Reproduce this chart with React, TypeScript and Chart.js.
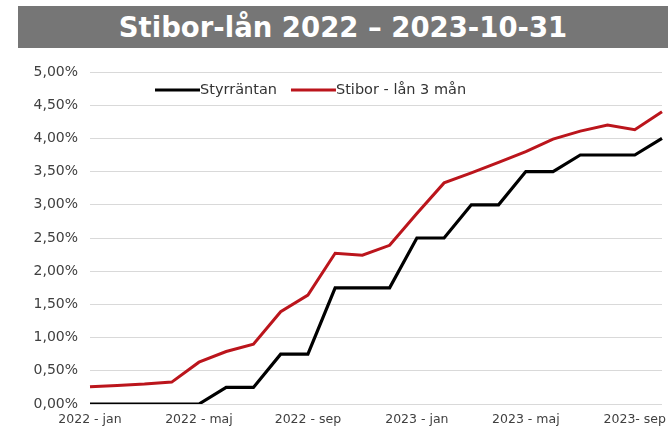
import { useEffect, useRef } from "react";
import { Chart, registerables } from "chart.js";

Chart.register(...registerables);

const TITLE = "Stibor-lån 2022 – 2023-10-31";

const months = [
  "2022 - jan", "2022 - feb", "2022 - mar", "2022 - apr", "2022 - maj", "2022 - jun",
  "2022 - jul", "2022 - aug", "2022 - sep", "2022 - okt", "2022 - nov", "2022 - dec",
  "2023 - jan", "2023 - feb", "2023 - mar", "2023 - apr", "2023 - maj", "2023 - jun",
  "2023 - jul", "2023 - aug", "2023- sep", "2023 - okt",
];

const xTickLabels = ["2022 - jan", "2022 - maj", "2022 - sep", "2023 - jan", "2023 - maj", "2023- sep"];

const seriesNames = ["Styrräntan", "Stibor - lån 3 mån"];

const styrrantan = [
  0, 0, 0, 0, 0, 0.25, 0.25, 0.75, 0.75, 1.75, 1.75, 1.75,
  2.5, 2.5, 3.0, 3.0, 3.5, 3.5, 3.75, 3.75, 3.75, 4.0,
];

const stibor3m = [
  0.26, 0.28, 0.3, 0.33, 0.63, 0.79, 0.9, 1.39, 1.64, 2.27, 2.24, 2.39,
  2.87, 3.33, 3.48, 3.64, 3.8, 3.99, 4.11, 4.2, 4.13, 4.4,
];

const Y_MIN = 0;
const Y_MAX = 5;
const Y_STEP = 0.5;

const inlineLegend = {
  id: "inlineLegend",
  afterDraw(chart: any) {
    const ctx = chart.ctx as CanvasRenderingContext2D;
    const area = chart.chartArea;
    let x = area.left + 65;
    const y = area.top + 18;
    ctx.save();
    ctx.font = '14.5px "DejaVu Sans"';
    ctx.textBaseline = "middle";
    ctx.textAlign = "left";
    chart.data.datasets.forEach((ds: any) => {
      ctx.strokeStyle = ds.borderColor;
      ctx.lineWidth = 3;
      ctx.beginPath();
      ctx.moveTo(x, y);
      ctx.lineTo(x + 45, y);
      ctx.stroke();
      x += 45;
      ctx.fillStyle = "#333333";
      ctx.fillText(ds.label, x, y);
      x += ctx.measureText(ds.label).width + 14;
    });
    ctx.restore();
  },
};

export default function App() {
  const canvasRef = useRef<HTMLCanvasElement | null>(null);

  useEffect(() => {
    if (!canvasRef.current) return;
    const chart = new Chart(canvasRef.current, {
      type: "line",
      data: {
        labels: months,
        datasets: [
          {
            label: seriesNames[0],
            data: styrrantan,
            borderColor: "#000000",
            borderWidth: 3.2,
            pointRadius: 0,
            tension: 0,
            fill: false,
          },
          {
            label: seriesNames[1],
            data: stibor3m,
            borderColor: "#bb151c",
            borderWidth: 3,
            pointRadius: 0,
            tension: 0,
            fill: false,
          },
        ],
      },
      options: {
        animation: false,
        responsive: false,
        maintainAspectRatio: false,
        layout: { padding: { top: 72, right: 7, left: 0, bottom: 0 } },
        plugins: {
          legend: { display: false },
          tooltip: { enabled: false },
          title: { display: false },
        },
        scales: {
          x: {
            grid: { display: false, drawTicks: false },
            border: { display: false },
            ticks: {
              autoSkip: false,
              maxRotation: 0,
              minRotation: 0,
              padding: 8,
              color: "#404040",
              font: { family: "DejaVu Sans", size: 12.5 },
              callback: (_v: any, i: number) => (i % 4 === 0 ? xTickLabels[i / 4] ?? "" : ""),
            },
            afterFit: (scale: any) => {
              scale.height = 26;
            },
          },
          y: {
            min: Y_MIN,
            max: Y_MAX,
            grid: { color: "#d9d9d9", lineWidth: 1, drawTicks: false },
            border: { display: false },
            ticks: {
              stepSize: Y_STEP,
              padding: 12,
              color: "#404040",
              font: { family: "DejaVu Sans", size: 14 },
              callback: (v: any) => Number(v).toFixed(2).replace(".", ",") + "%",
            },
            afterFit: (scale: any) => {
              scale.width = 90;
            },
          },
        },
      },
      plugins: [inlineLegend],
    });
    return () => chart.destroy();
  }, []);

  return (
    <div style={{ position: "fixed", left: 0, top: 0, width: 670, height: 430, background: "#ffffff" }}>
      <canvas ref={canvasRef} width={670} height={430} style={{ position: "absolute", left: 0, top: 0, width: 670, height: 430 }} />
      <div
        style={{
          position: "absolute",
          left: 18,
          top: 6,
          width: 650,
          height: 42,
          background: "#767676",
          color: "#ffffff",
          fontFamily: '"DejaVu Sans", sans-serif',
          fontWeight: "bold",
          fontSize: 27.5,
          lineHeight: "42px",
          textAlign: "center",
          whiteSpace: "nowrap",
        }}
      >
        {TITLE}
      </div>
    </div>
  );
}
